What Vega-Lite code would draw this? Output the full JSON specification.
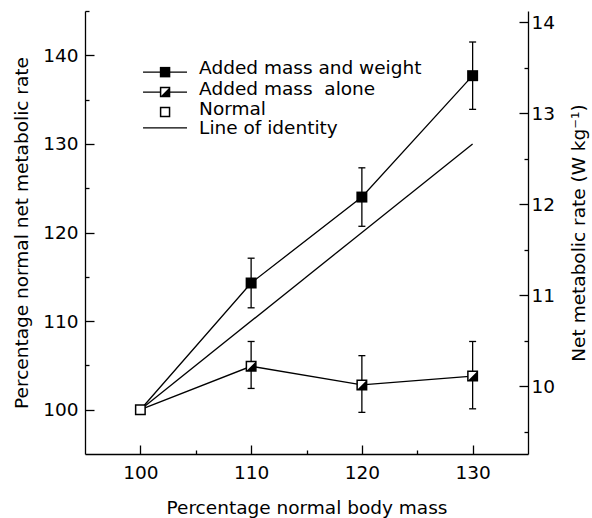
{
  "$schema": "https://vega.github.io/schema/vega-lite/v6.json",
  "width": 443,
  "height": 443,
  "autosize": "none",
  "padding": {"left": 85, "top": 11, "right": 64, "bottom": 64},
  "background": "white",
  "config": {
    "view": {"stroke": null},
    "font": "DejaVu Sans",
    "axis": {
      "grid": false,
      "domainColor": "black",
      "domainWidth": 1.3,
      "tickColor": "black",
      "tickWidth": 1.3,
      "labelColor": "black",
      "titleColor": "black",
      "labelFontSize": 18.5,
      "titleFontSize": 18.5,
      "titleFontWeight": "normal",
      "labelOverlap": false,
      "labelFlush": false
    }
  },
  "datasets": {
    "series": [
      {"series": "Added mass and weight", "x": 100, "y": 100},
      {"series": "Added mass and weight", "x": 110, "y": 114.3},
      {"series": "Added mass and weight", "x": 120, "y": 124.0},
      {"series": "Added mass and weight", "x": 130, "y": 137.7},
      {"series": "Added mass alone", "x": 100, "y": 100},
      {"series": "Added mass alone", "x": 110, "y": 104.9},
      {"series": "Added mass alone", "x": 120, "y": 102.8},
      {"series": "Added mass alone", "x": 130, "y": 103.8},
      {"series": "Line of identity", "x": 100, "y": 100},
      {"series": "Line of identity", "x": 130, "y": 130},
      {"series": "Normal", "x": 100, "y": 100}
    ],
    "errors": [
      {"series": "Added mass and weight", "x": 110, "y": 111.5, "hi": 117.1},
      {"series": "Added mass and weight", "x": 120, "y": 120.7, "hi": 127.3},
      {"series": "Added mass and weight", "x": 130, "y": 133.9, "hi": 141.5},
      {"series": "Added mass alone", "x": 110, "y": 102.4, "hi": 107.7},
      {"series": "Added mass alone", "x": 120, "y": 99.7, "hi": 106.1},
      {"series": "Added mass alone", "x": 130, "y": 100.1, "hi": 107.7}
    ],
    "legend": [
      {"series": "Added mass and weight", "label": "Added mass and weight", "x": 100.24, "x2": 104.21, "xm": 102.23, "xt": 105.3, "y": 138.1, "yt": 137.88, "line": true},
      {"series": "Added mass alone", "label": "Added mass\u00a0 alone", "x": 100.24, "x2": 104.21, "xm": 102.23, "xt": 105.3, "y": 135.85, "yt": 135.51, "line": true},
      {"series": "Normal", "label": "Normal", "x": 100.24, "x2": 104.21, "xm": 102.23, "xt": 105.3, "y": 133.6, "yt": 133.25, "line": false},
      {"series": "Line of identity", "label": "Line of identity", "x": 100.24, "x2": 104.21, "xm": 102.23, "xt": 105.3, "y": 131.8, "yt": 131.1, "line": true}
    ],
    "rate": [
      {"x": 100, "rate": 9.74}
    ]
  },
  "layer": [
    {
      "encoding": {
        "x": {
          "field": "x", "type": "quantitative",
          "scale": {"domain": [95, 135], "nice": false, "zero": false},
          "axis": {
            "title": "Percentage normal body mass",
            "values": [100, 105, 110, 115, 120, 125, 130],
            "labelExpr": "datum.value % 10 === 0 ? format(datum.value, 'd') : ''",
            "tickSize": {"condition": {"test": "datum.value % 10 === 0", "value": -9}, "value": -4},
            "labelPadding": 18,
            "titlePadding": 12
          }
        },
        "y": {
          "field": "y", "type": "quantitative",
          "scale": {"domain": [95, 145], "nice": false, "zero": false},
          "axis": {
            "title": "Percentage normal net metabolic rate",
            "values": [100, 105, 110, 115, 120, 125, 130, 135, 140, 145],
            "labelExpr": "datum.value % 10 === 0 ? format(datum.value, 'd') : ''",
            "tickSize": {"condition": {"test": "datum.value % 10 === 0", "value": -9}, "value": -4},
            "labelPadding": 16,
            "titlePadding": 11
          }
        }
      },
      "layer": [
        {
          "data": {"name": "series"},
          "transform": [{"filter": "datum.series !== 'Normal'"}],
          "mark": {"type": "line", "color": "black", "strokeWidth": 1.3},
          "encoding": {
            "detail": {"field": "series"}
          }
        },
        {
          "data": {"name": "errors"},
          "mark": {"type": "rule", "color": "black", "strokeWidth": 1.3},
          "encoding": {
            "y2": {"field": "hi"}
          }
        },
        {
          "data": {"name": "errors"},
          "mark": {"type": "tick", "orient": "horizontal", "color": "black", "size": 7, "thickness": 1.3, "opacity": 1},
          "encoding": {}
        },
        {
          "data": {"name": "errors"},
          "transform": [{"filter": "datum.hi > 0"}],
          "mark": {"type": "tick", "orient": "horizontal", "color": "black", "size": 7, "thickness": 1.3, "opacity": 1},
          "encoding": {
            "y": {"field": "hi", "type": "quantitative"}
          }
        },
        {
          "data": {"name": "series"},
          "transform": [{"filter": "datum.series === 'Added mass and weight' && datum.x > 100"}],
          "mark": {"type": "point", "shape": "square", "filled": true, "color": "black", "size": 121, "opacity": 1},
          "encoding": {}
        },
        {
          "data": {"name": "series"},
          "transform": [{"filter": "datum.series === 'Added mass alone' && datum.x > 100"}],
          "mark": {"type": "point", "shape": "square", "filled": true, "fill": "white", "stroke": "black", "strokeWidth": 1.5, "size": 90, "opacity": 1},
          "encoding": {}
        },
        {
          "data": {"name": "series"},
          "transform": [{"filter": "datum.series === 'Added mass alone' && datum.x > 100"}],
          "mark": {"type": "point", "shape": "M1,-1L1,1L-1,1Z", "filled": true, "fill": "black", "strokeWidth": 0, "size": 90, "opacity": 1},
          "encoding": {}
        },
        {
          "data": {"name": "series"},
          "transform": [{"filter": "datum.series === 'Normal'"}],
          "mark": {"type": "point", "shape": "square", "filled": true, "fill": "white", "stroke": "black", "strokeWidth": 1.5, "size": 90, "opacity": 1},
          "encoding": {}
        },
        {
          "data": {"name": "legend"},
          "transform": [{"filter": "datum.line"}],
          "mark": {"type": "rule", "color": "black", "strokeWidth": 1.3},
          "encoding": {
            "x2": {"field": "x2"}
          }
        },
        {
          "data": {"name": "legend"},
          "transform": [{"filter": "datum.series === 'Added mass and weight'"}],
          "mark": {"type": "point", "shape": "square", "filled": true, "color": "black", "size": 110, "opacity": 1},
          "encoding": {
            "x": {"field": "xm", "type": "quantitative"}
          }
        },
        {
          "data": {"name": "legend"},
          "transform": [{"filter": "datum.series === 'Added mass alone' || datum.series === 'Normal'"}],
          "mark": {"type": "point", "shape": "square", "filled": true, "fill": "white", "stroke": "black", "strokeWidth": 1.5, "size": 80, "opacity": 1},
          "encoding": {
            "x": {"field": "xm", "type": "quantitative"}
          }
        },
        {
          "data": {"name": "legend"},
          "transform": [{"filter": "datum.series === 'Added mass alone'"}],
          "mark": {"type": "point", "shape": "M1,-1L1,1L-1,1Z", "filled": true, "fill": "black", "strokeWidth": 0, "size": 80, "opacity": 1},
          "encoding": {
            "x": {"field": "xm", "type": "quantitative"}
          }
        },
        {
          "data": {"name": "legend"},
          "mark": {"type": "text", "align": "left", "baseline": "alphabetic", "fontSize": 18.5, "color": "black"},
          "encoding": {
            "x": {"field": "xt", "type": "quantitative"},
            "y": {"field": "yt", "type": "quantitative"},
            "text": {"field": "label"}
          }
        }
      ]
    },
    {
      "data": {"name": "rate"},
      "mark": {"type": "point", "opacity": 0},
      "encoding": {
        "x": {"field": "x", "type": "quantitative", "scale": {"domain": [95, 135], "nice": false, "zero": false}},
        "y": {
          "field": "rate", "type": "quantitative",
          "scale": {"domain": [9.258, 14.121], "nice": false, "zero": false},
          "axis": {
            "orient": "right",
            "title": "Net metabolic rate (W kg\u207b\u00b9)",
            "titleAngle": 270,
            "values": [9.5, 10, 10.5, 11, 11.5, 12, 12.5, 13, 13.5, 14],
            "labelExpr": "datum.value % 1 === 0 ? format(datum.value, 'd') : ''",
            "tickSize": {"condition": {"test": "datum.value % 1 === 0", "value": -9}, "value": -4},
            "labelPadding": 12,
            "titlePadding": 34
          }
        }
      }
    }
  ],
  "resolve": {"scale": {"y": "independent"}}
}
